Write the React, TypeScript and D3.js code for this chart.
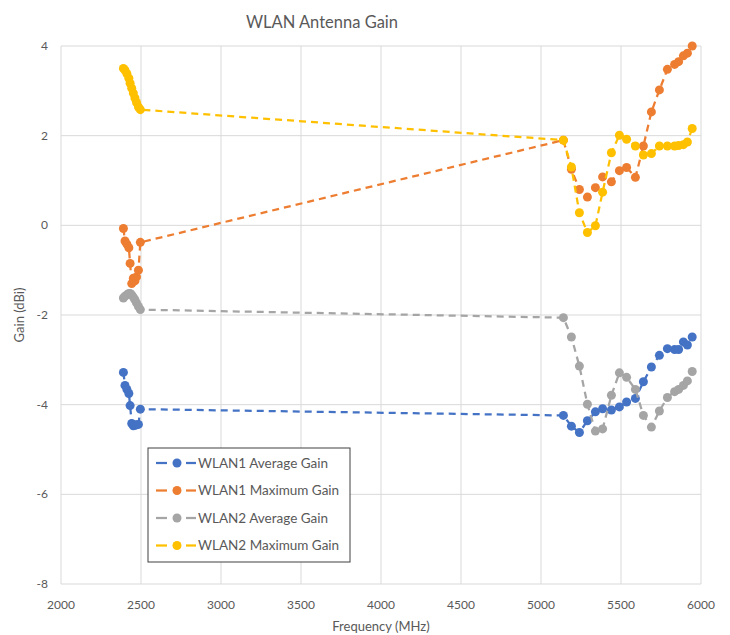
import React from "react";
import { scaleLinear, line } from "d3";

// frequencies (MHz) – 2.4 GHz band followed by 5 GHz band
const freqs = [
  2390, 2400, 2412, 2424, 2432, 2442, 2452, 2462, 2472, 2484, 2496,
  5140, 5190, 5240, 5290, 5340, 5385, 5440, 5490, 5535, 5590, 5640, 5690,
  5740, 5790, 5835, 5860, 5890, 5915, 5945,
];

const wlan1Avg = [
  -3.28, -3.57, -3.66, -3.75, -4.02, -4.42, -4.47, -4.46, -4.45, -4.44, -4.1,
  -4.24, -4.48, -4.62, -4.36, -4.16, -4.09, -4.12, -4.05, -3.94, -3.86, -3.49,
  -3.16, -2.9, -2.75, -2.77, -2.77, -2.6, -2.67, -2.49,
];
const wlan1Max = [
  -0.07, -0.35, -0.42, -0.5, -0.85, -1.3, -1.18, -1.24, -1.15, -1.0, -0.38,
  1.9, 1.25, 0.8, 0.63, 0.84, 1.08, 0.97, 1.22, 1.29, 1.07, 1.77, 2.53, 3.02,
  3.48, 3.59, 3.65, 3.78, 3.84, 4.0,
];
const wlan2Avg = [
  -1.62, -1.58, -1.55, -1.52, -1.52, -1.55, -1.6, -1.66, -1.73, -1.81, -1.88,
  -2.06, -2.49, -3.14, -3.99, -4.59, -4.54, -3.79, -3.29, -3.39, -3.66, -4.24,
  -4.5, -4.14, -3.84, -3.71, -3.66, -3.57, -3.47, -3.26,
];
const wlan2Max = [
  3.5, 3.46, 3.38, 3.28, 3.17, 3.06, 2.95, 2.84, 2.74, 2.64, 2.58,
  1.9, 1.3, 0.28, -0.16, -0.01, 0.74, 1.62, 2.01, 1.92, 1.77, 1.57, 1.6, 1.77,
  1.77, 1.77, 1.78, 1.8, 1.86, 2.16,
];

const seriesNames = [
  "WLAN1 Average Gain",
  "WLAN1 Maximum Gain",
  "WLAN2 Average Gain",
  "WLAN2 Maximum Gain",
];
const seriesColors = ["#4472C4", "#ED7D31", "#A5A5A5", "#FFC000"];
const xTicks = [2000, 2500, 3000, 3500, 4000, 4500, 5000, 5500, 6000];
const yTicks = [-8, -6, -4, -2, 0, 2, 4];

const W = 730;
const H = 635;
const font = "Lato, 'Open Sans', sans-serif";
const textColor = "#595959";

const App = () => {
  const x = scaleLinear().domain([2000, 6000]).range([61, 701]);
  const y = scaleLinear().domain([-8, 4]).range([584, 46]);
  const allSeries = [wlan1Avg, wlan1Max, wlan2Avg, wlan2Max];
  const path = line<number>()
    .x((d, i) => x(freqs[i]))
    .y((d) => y(d));

  const legendX = 148;
  const legendY = 448;

  return (
    <svg
      width={W}
      height={H}
      style={{ position: "absolute", left: 0, top: 0, background: "#fff" }}
      fontFamily={font}
    >
      <rect width={W} height={H} fill="#fff" />
      <text
        x={322}
        y={28}
        textAnchor="middle"
        fontSize={16.5}
        fill={textColor}
      >
        WLAN Antenna Gain
      </text>

      {/* grid */}
      {yTicks.map((t) => (
        <line
          key={"gy" + t}
          x1={x(2000)}
          x2={x(6000)}
          y1={y(t)}
          y2={y(t)}
          stroke="#d9d9d9"
          strokeWidth={1}
        />
      ))}
      {xTicks.map((t) => (
        <line
          key={"gx" + t}
          x1={x(t)}
          x2={x(t)}
          y1={y(4)}
          y2={y(-8)}
          stroke="#d9d9d9"
          strokeWidth={1}
        />
      ))}

      {/* tick labels */}
      {yTicks.map((t) => (
        <text
          key={"ty" + t}
          x={48}
          y={y(t) + 4}
          textAnchor="end"
          fontSize={12}
          fill={textColor}
        >
          {t}
        </text>
      ))}
      {xTicks.map((t) => (
        <text
          key={"tx" + t}
          x={x(t)}
          y={609}
          textAnchor="middle"
          fontSize={12}
          fill={textColor}
        >
          {t}
        </text>
      ))}

      <text
        x={381}
        y={631}
        textAnchor="middle"
        fontSize={13}
        fill={textColor}
      >
        Frequency (MHz)
      </text>
      <text
        transform={`translate(24,${y(-2)}) rotate(-90)`}
        textAnchor="middle"
        fontSize={13}
        fill={textColor}
      >
        Gain (dBi)
      </text>

      {/* series */}
      {allSeries.map((s, k) => (
        <g key={"s" + k}>
          <path
            d={path(s) || ""}
            fill="none"
            stroke={seriesColors[k]}
            strokeWidth={2.25}
            strokeDasharray="7,5"
          />
          {s.map((v, i) => (
            <circle
              key={i}
              cx={x(freqs[i])}
              cy={y(v)}
              r={4.5}
              fill={seriesColors[k]}
            />
          ))}
        </g>
      ))}

      {/* legend */}
      <rect
        x={legendX}
        y={legendY}
        width={202}
        height={114}
        fill="#fff"
        stroke="#404040"
        strokeWidth={1}
      />
      {seriesNames.map((n, k) => {
        const ly = legendY + 15 + k * 27.5;
        return (
          <g key={"l" + k}>
            <line
              x1={legendX + 8}
              x2={legendX + 19}
              y1={ly}
              y2={ly}
              stroke={seriesColors[k]}
              strokeWidth={2.25}
            />
            <line
              x1={legendX + 38}
              x2={legendX + 48}
              y1={ly}
              y2={ly}
              stroke={seriesColors[k]}
              strokeWidth={2.25}
            />
            <circle cx={legendX + 29} cy={ly} r={4.5} fill={seriesColors[k]} />
            <text
              x={legendX + 50}
              y={ly + 4.5}
              fontSize={13.5}
              fill={textColor}
            >
              {n}
            </text>
          </g>
        );
      })}
    </svg>
  );
};

export default App;
